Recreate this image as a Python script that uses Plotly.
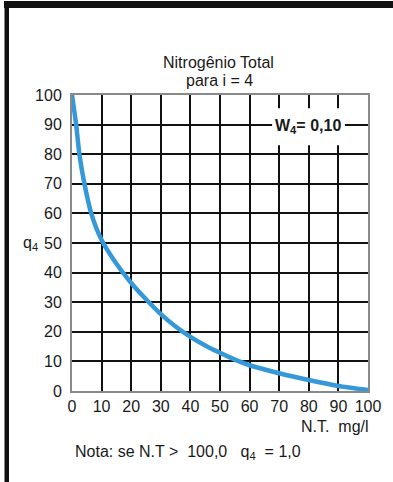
import plotly.graph_objects as go

# Quality sub-index curve for Total Nitrogen (i = 4)
nt_mg_l = [0, 1.4, 2.5, 4.2, 6.5, 10, 15, 20, 25, 30, 35, 40, 45, 50, 55, 60, 70, 80, 90, 100]
q4 = [100, 90, 80, 70, 60, 51, 43, 36.5, 31, 26, 21.8, 18.3, 15.4, 12.9, 10.6, 8.7, 6.0, 3.7, 1.7, 0.3]

ticks = list(range(0, 101, 10))
weight_label = "W<sub>4</sub>= 0,10"

FONT = "Liberation Sans, Arial, sans-serif"
INK = "#1a1a1a"

fig = go.Figure()
fig.add_trace(go.Scatter(
    x=nt_mg_l, y=q4, mode="lines",
    line=dict(color="#3598d8", width=4.5, shape="spline", smoothing=0.6),
    hoverinfo="skip", showlegend=False,
))

axis_common = dict(
    range=[0, 100], tickvals=ticks, ticktext=[str(t) for t in ticks],
    showgrid=True, gridcolor="#111111", gridwidth=2,
    showline=True, linecolor="#8a8a8a", linewidth=2, mirror=True,
    zeroline=False, ticks="", fixedrange=True,
    tickfont=dict(family=FONT, size=16, color=INK),
)
fig.update_xaxes(**axis_common, ticklabelstandoff=0)
fig.update_yaxes(**axis_common, ticklabelstandoff=5)

# white box behind the weight label
fig.add_shape(type="rect", xref="x", yref="y", x0=67.6, x1=92.2, y0=83, y1=95.5,
              fillcolor="white", line=dict(width=0), layer="above")

# page geometry (pixels)
W, H = 393, 482
L, R, T, B = 72, 25, 95, 91
pw, ph = W - L - R, H - T - B


def px_x(x):
    return (x - L) / pw


def px_y(y):
    return 1 - (y - T) / ph


def label(text, x, y, size=16, xanchor="center", bold=False, **kw):
    return dict(text=("<b>" + text + "</b>") if bold else text,
                xref=kw.get("xref", "paper"), yref=kw.get("yref", "paper"),
                x=x, y=y, xanchor=xanchor, yanchor="middle", showarrow=False,
                font=dict(family=FONT, size=size, color=INK))


annotations = [
    label("Nitrogênio Total", px_x(218), px_y(62), size=16),
    label("para i = 4", px_x(219), px_y(80), size=16),
    label(weight_label, 79.7, 89.5, size=16, bold=True, xref="x", yref="y"),
    label("q<sub>4</sub>", px_x(30), 50, size=16, yref="y"),
    label("N.T.  mg/l", px_x(371), px_y(426), size=16, xanchor="right"),
    label("Nota: se N.T &gt;&nbsp; 100,0 &nbsp; q<sub>4</sub>&nbsp; = 1,0", px_x(73), px_y(452),
          size=16, xanchor="left"),
]

# page frame: heavy bar along the top and the left side
frame = [
    dict(type="rect", xref="paper", yref="paper", x0=px_x(4), x1=px_x(W + 2),
         y0=px_y(8), y1=px_y(1), fillcolor="#111111", line=dict(width=0)),
    dict(type="rect", xref="paper", yref="paper", x0=px_x(4.5), x1=px_x(9),
         y0=px_y(H + 2), y1=px_y(1), fillcolor="#111111", line=dict(width=0)),
]
for s in frame:
    fig.add_shape(**s)

fig.update_layout(
    width=W, height=H,
    margin=dict(l=L, r=R, t=T, b=B),
    paper_bgcolor="white", plot_bgcolor="white",
    annotations=annotations,
    showlegend=False,
)

fig.write_html("out.html", config={"displayModeBar": False})
